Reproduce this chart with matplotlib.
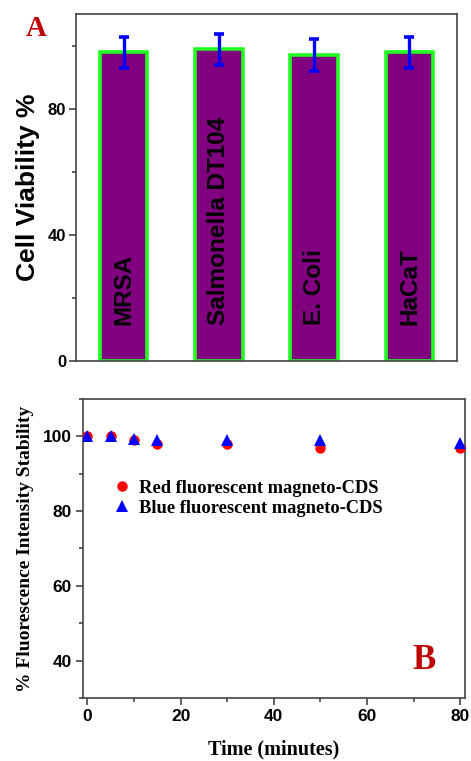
import matplotlib
matplotlib.use("Agg")
import matplotlib.pyplot as plt
from matplotlib.ticker import MultipleLocator

# panel A data
strains = ["MRSA", "Salmonella DT104", "E. Coli", "HaCaT"]
viability = [97.8, 98.8, 97.0, 97.8]
viability_err = [5.0, 5.0, 5.0, 5.0]

# panel B data
time_min = [0, 5, 10, 15, 30, 50, 80]
red_stability = [100, 100, 99, 98, 98, 97, 97]
blue_stability = [100, 100, 99.2, 99, 99, 99, 98.2]

sans = ["Liberation Sans", "DejaVu Sans"]
serif = ["Liberation Serif", "DejaVu Serif"]
spine_col = "#444444"
label_red = "#c00000"

fig = plt.figure(figsize=(4.71, 7.61), dpi=100, facecolor="white")

# ---- Panel A: cell viability bars ----
ax1 = fig.add_axes([0.1614, 0.5256, 0.809, 0.456])
pos = list(range(len(strains)))
ax1.bar(pos, viability, width=0.5, color="#800080", edgecolor="#22ff22",
        linewidth=2.6, zorder=2)
ax1.errorbar(pos, viability, yerr=viability_err, fmt="none", ecolor="#0000ff",
             elinewidth=2.4, capsize=3.5, capthick=2.6, zorder=3)
for p, name in zip(pos, strains):
    ax1.text(p, 11.5, name, rotation=90, ha="center", va="bottom",
             fontsize=17.5, fontweight="bold", family=sans, color="black", zorder=4)

ax1.set_xlim(-0.5, 3.5)
ax1.set_ylim(0, 110)
ax1.set_xticks([])
ax1.yaxis.set_major_locator(MultipleLocator(40))
ax1.yaxis.set_minor_locator(MultipleLocator(20))
ax1.tick_params(axis="y", which="major", direction="out", length=5, width=1.2,
                color=spine_col, labelsize=12, pad=2)
ax1.tick_params(axis="y", which="minor", direction="out", length=3, width=1.2,
                color=spine_col)
for lab in ax1.get_yticklabels():
    lab.set_fontweight("bold")
    lab.set_family(sans)
ax1.set_ylabel("Cell Viability %", fontsize=19, fontweight="bold", family=sans,
               labelpad=6)
for s in ax1.spines.values():
    s.set_color(spine_col)
    s.set_linewidth(1.2)
fig.text(0.078, 0.963, "A", color=label_red, fontsize=21, fontweight="bold",
         family=serif, ha="center", va="center")

# ---- Panel B: fluorescence stability ----
ax2 = fig.add_axes([0.1756, 0.0828, 0.8117, 0.3929])
ax2.plot(time_min, red_stability, "o", color="#ff0000", markersize=7.5,
         markeredgewidth=0, label="Red fluorescent magneto-CDS", zorder=3)
ax2.plot(time_min, blue_stability, "^", color="#0000ff", markersize=8,
         markeredgewidth=0, label="Blue fluorescent magneto-CDS", zorder=4)
ax2.set_xlim(-1, 81)
ax2.set_ylim(30, 110)
ax2.xaxis.set_major_locator(MultipleLocator(20))
ax2.xaxis.set_minor_locator(MultipleLocator(10))
ax2.yaxis.set_major_locator(MultipleLocator(20))
ax2.yaxis.set_minor_locator(MultipleLocator(10))
ax2.tick_params(which="major", direction="out", length=5, width=1.2,
                color=spine_col, labelsize=12.5, pad=3)
ax2.tick_params(which="minor", direction="out", length=3, width=1.2,
                color=spine_col)
for lab in ax2.get_xticklabels() + ax2.get_yticklabels():
    lab.set_fontweight("bold")
    lab.set_family(sans)
ax2.set_xlabel("Time (minutes)", fontsize=14.5, fontweight="bold", family=serif,
               labelpad=11)
ax2.set_ylabel("% Fluorescence Intensity Stability", fontsize=14, fontweight="bold",
               family=serif, labelpad=6)
for s in ax2.spines.values():
    s.set_color(spine_col)
    s.set_linewidth(1.2)
ax2.legend(loc="upper left", bbox_to_anchor=(0.03, 0.785), frameon=False,
           prop={"family": serif, "weight": "bold", "size": 13.3},
           handletextpad=0.3, labelspacing=0.15, handlelength=1.2)
ax2.text(0.893, 0.124, "B", transform=ax2.transAxes, color=label_red, fontsize=25,
         fontweight="bold", family=serif, ha="center", va="center")

fig.savefig("out.png", dpi=100, facecolor="white")
